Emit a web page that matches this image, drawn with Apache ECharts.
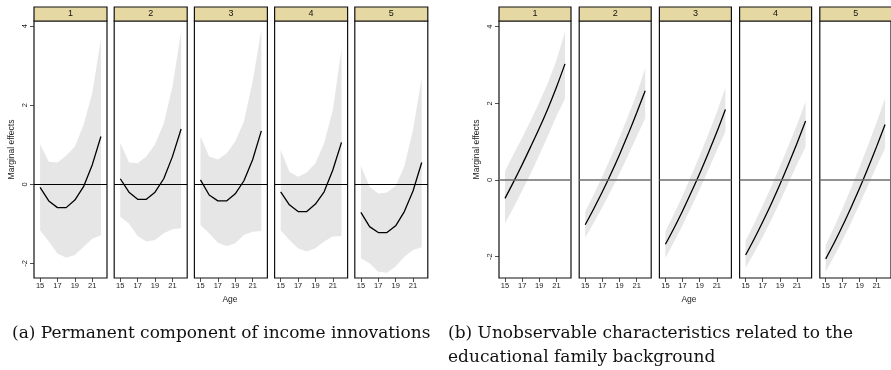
<!DOCTYPE html>
<html>
<head>
<meta charset="utf-8">
<script src="https://cdn.jsdelivr.net/npm/echarts@6/dist/echarts.min.js"></script>
<style>html,body{margin:0;padding:0;background:#fff}#c{width:891px;height:370px}</style>
</head>
<body>
<div id="c"></div>
<script>
const ages = [15, 16, 17, 18, 19, 20, 21, 22];
const facetLabels = ['1', '2', '3', '4', '5'];
const xTicks = [15, 17, 19, 21];
const yTicks = [-2, 0, 2, 4];

// (a) Permanent component of income innovations
const permEst = [
  [-0.08, -0.42, -0.59, -0.59, -0.40, -0.06, 0.49, 1.21],
  [0.14, -0.20, -0.38, -0.38, -0.20, 0.14, 0.70, 1.40],
  [0.11, -0.27, -0.42, -0.42, -0.24, 0.09, 0.62, 1.35],
  [-0.19, -0.52, -0.69, -0.69, -0.50, -0.19, 0.36, 1.06],
  [-0.71, -1.07, -1.22, -1.22, -1.05, -0.69, -0.17, 0.55]
];
const permUpper = [
  [1.01, 0.57, 0.55, 0.72, 0.95, 1.50, 2.30, 3.67],
  [1.05, 0.55, 0.53, 0.70, 1.01, 1.54, 2.47, 3.86],
  [1.21, 0.70, 0.63, 0.78, 1.08, 1.59, 2.60, 3.90],
  [0.87, 0.32, 0.19, 0.30, 0.53, 1.04, 1.88, 3.42],
  [0.47, -0.06, -0.23, -0.21, -0.04, 0.45, 1.38, 2.68]
];
const permLower = [
  [-1.16, -1.45, -1.75, -1.86, -1.79, -1.58, -1.38, -1.29],
  [-0.82, -0.99, -1.31, -1.45, -1.41, -1.24, -1.14, -1.11],
  [-1.03, -1.24, -1.48, -1.56, -1.49, -1.28, -1.20, -1.18],
  [-1.16, -1.41, -1.62, -1.70, -1.62, -1.45, -1.32, -1.31],
  [-1.87, -2.00, -2.21, -2.24, -2.08, -1.83, -1.66, -1.59]
];

// (b) Unobservable characteristics related to the educational family background
const eduEst = [
  [-0.48, -0.05, 0.40, 0.87, 1.35, 1.86, 2.42, 3.03],
  [-1.17, -0.75, -0.31, 0.16, 0.66, 1.19, 1.75, 2.33],
  [-1.68, -1.26, -0.81, -0.33, 0.17, 0.70, 1.25, 1.84],
  [-1.96, -1.54, -1.09, -0.62, -0.12, 0.41, 0.96, 1.54],
  [-2.06, -1.64, -1.19, -0.71, -0.21, 0.32, 0.87, 1.45]
];
const eduUpper = [
  [0.23, 0.67, 1.10, 1.55, 2.02, 2.53, 3.12, 3.87],
  [-0.83, -0.38, 0.09, 0.59, 1.11, 1.66, 2.24, 2.91],
  [-1.35, -0.89, -0.41, 0.10, 0.63, 1.19, 1.77, 2.41],
  [-1.59, -1.14, -0.67, -0.17, 0.35, 0.89, 1.45, 2.04],
  [-1.70, -1.23, -0.73, -0.21, 0.34, 0.91, 1.50, 2.13]
];
const eduLower = [
  [-1.13, -0.72, -0.28, 0.17, 0.65, 1.15, 1.67, 2.12],
  [-1.50, -1.12, -0.71, -0.28, 0.17, 0.64, 1.13, 1.61],
  [-2.03, -1.62, -1.18, -0.72, -0.24, 0.26, 0.77, 1.26],
  [-2.29, -1.90, -1.48, -1.04, -0.57, -0.08, 0.41, 0.87],
  [-2.39, -1.99, -1.56, -1.11, -0.63, -0.14, 0.36, 0.83]
];

const SANS = 'Liberation Sans, Arial, sans-serif';
const SERIF = 'DejaVu Serif, serif';

const panels = [
  {est: permEst, lo: permLower, hi: permUpper, left: 34, width: 73, step: 80.2, ymin: -2.37, ymax: 4.13,
   smooth: false, zeroColor: '#000', zeroWidth: 1, ageX: 230},
  {est: eduEst, lo: eduLower, hi: eduUpper, left: 499, width: 72, step: 80.2, ymin: -2.56, ymax: 4.15,
   smooth: 0.3, zeroColor: '#6e6e6e', zeroWidth: 1.5, ageX: 689}
];

function bandRenderer(lo, hi) {
  return function (params, api) {
    if (params.dataIndex !== 0) return null;
    const pts = [];
    for (let i = 0; i < ages.length; i++) pts.push(api.coord([ages[i], lo[i]]));
    for (let i = ages.length - 1; i >= 0; i--) pts.push(api.coord([ages[i], hi[i]]));
    return {type: 'polygon', shape: {points: pts}, style: {fill: '#e6e6e6', stroke: null}, silent: true};
  };
}

const grid = [], xAxis = [], yAxis = [], series = [], graphic = [];
let gi = 0;
panels.forEach((p, pi) => {
  for (let f = 0; f < 5; f++) {
    const left = p.left + f * p.step;
    grid.push({left: left, top: 21, width: p.width, height: 257, show: true,
      borderColor: '#111', borderWidth: 1.2, backgroundColor: '#fff'});
    xAxis.push({type: 'value', gridIndex: gi, min: 14.3, max: 22.7, position: 'bottom',
      axisLine: {show: false, onZero: false}, splitLine: {show: false},
      axisTick: {show: true, customValues: xTicks, length: 4, lineStyle: {color: '#222', width: 0.8}},
      axisLabel: {show: true, customValues: xTicks, fontSize: 7.5, color: '#222', margin: 4, fontFamily: SANS}});
    const first = f === 0;
    yAxis.push({type: 'value', gridIndex: gi, min: p.ymin, max: p.ymax, position: 'left',
      axisLine: {show: false, onZero: false}, splitLine: {show: false},
      axisTick: {show: first, customValues: yTicks, length: 4, lineStyle: {color: '#222', width: 0.8}},
      axisLabel: {show: first, customValues: yTicks, rotate: 90, fontSize: 7.5, color: '#222', margin: 5, fontFamily: SANS},
      name: first ? 'Marginal effects' : '', nameLocation: 'middle', nameRotate: 90, nameGap: 18,
      nameTextStyle: {fontSize: 8.5, color: '#222', fontFamily: SANS}});
    const lo = p.lo[f], hi = p.hi[f], est = p.est[f];
    series.push({type: 'custom', xAxisIndex: gi, yAxisIndex: gi, renderItem: bandRenderer(lo, hi),
      data: ages.map((a, i) => [a, lo[i], hi[i]]), encode: {x: 0, y: [1, 2]}, silent: true, z: 1});
    series.push({type: 'line', xAxisIndex: gi, yAxisIndex: gi,
      data: ages.map((a, i) => [a, est[i]]), symbol: 'none', smooth: p.smooth,
      lineStyle: {color: '#000', width: 1.3}, silent: true, z: 3,
      markLine: {silent: true, symbol: 'none', label: {show: false}, animation: false,
        lineStyle: {color: p.zeroColor, width: p.zeroWidth, type: 'solid'},
        data: [{yAxis: 0}]}});
    // strip
    graphic.push({type: 'rect', shape: {x: left, y: 7, width: p.width, height: 14},
      style: {fill: '#e6d8a2', stroke: '#111', lineWidth: 1.2}, z: 10});
    graphic.push({type: 'text', x: left + p.width / 2, y: 14,
      style: {text: facetLabels[f], fill: '#111', font: '9px ' + SANS, textAlign: 'center', textVerticalAlign: 'middle'}, z: 11});
    gi++;
  }
  graphic.push({type: 'text', x: p.ageX, y: 300,
    style: {text: 'Age', fill: '#222', font: '8.5px ' + SANS, textAlign: 'center', textVerticalAlign: 'middle'}});
});

graphic.push({type: 'text', x: 12, y: 334,
  style: {text: '(a) Permanent component of income innovations', fill: '#111', font: '17px ' + SERIF, textAlign: 'left', textVerticalAlign: 'middle'}});
graphic.push({type: 'text', x: 448, y: 334,
  style: {text: '(b) Unobservable characteristics related to the', fill: '#111', font: '17px ' + SERIF, textAlign: 'left', textVerticalAlign: 'middle'}});
graphic.push({type: 'text', x: 448, y: 358,
  style: {text: 'educational family background', fill: '#111', font: '17px ' + SERIF, textAlign: 'left', textVerticalAlign: 'middle'}});

const chart = echarts.init(document.getElementById('c'), null, {renderer: 'canvas'});
chart.setOption({animation: false, grid, xAxis, yAxis, series, graphic});
</script>
</body>
</html>
